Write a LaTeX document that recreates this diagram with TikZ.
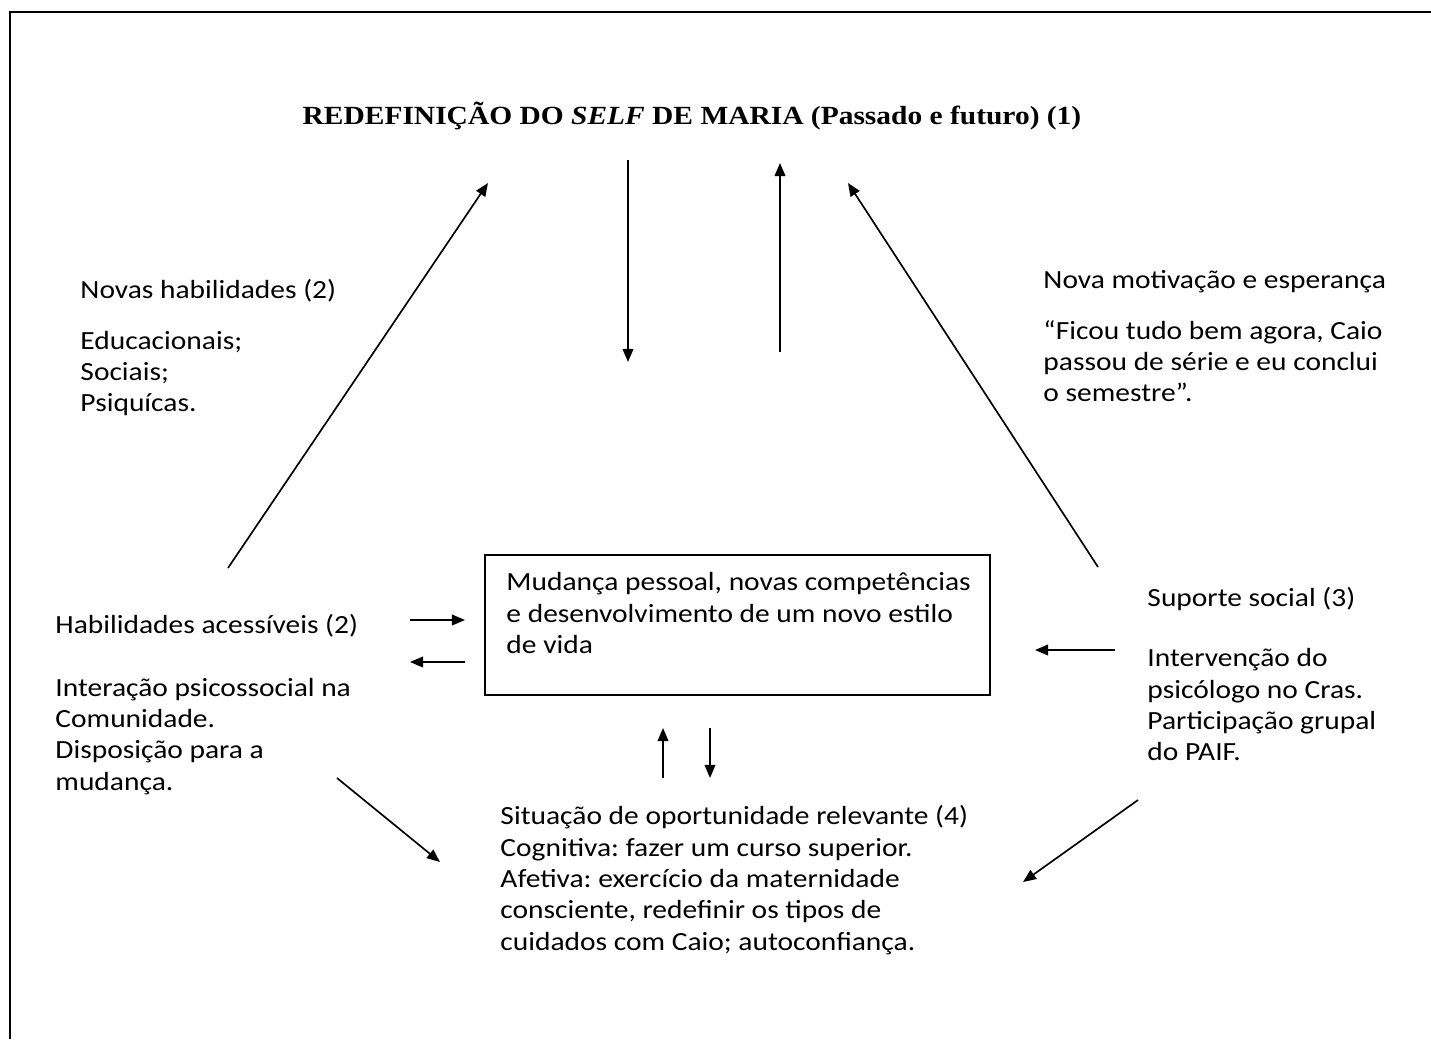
\documentclass[tikz,border=0pt]{standalone}
\usepackage{fontspec}
\setmainfont{Carlito}[FakeStretch=1.125]
\newfontfamily\fonttitulo{Liberation Serif}[FakeStretch=1.125]
\usetikzlibrary{arrows.meta}
\frenchspacing

\tikzset{
  seta/.style={line width=0.7pt, -{Triangle[length=5.5pt,width=4.5pt]}},
  bloco/.style={anchor=north west, align=left, inner sep=0pt,
    font=\fontsize{11pt}{13.2pt}\selectfont},
  caixa/.style={draw, line width=0.7pt, inner sep=0pt,
    minimum width=212.1pt, minimum height=58.8pt},
}

\begin{document}
\begin{tikzpicture}[x=0.42pt,y=-0.42pt]
    \useasboundingbox (0,0) rectangle (1431,1039);
    \draw[line width=0.85pt] (1431,12) -- (10,12) -- (10,1039);

    \node[font=\fonttitulo\bfseries\fontsize{11pt}{13pt}\selectfont] (titulo) at (692,116)
        {REDEFINIÇÃO DO \textit{SELF} DE MARIA (Passado e futuro) (1)};

    \node[bloco] (novas) at (80,279) {Novas habilidades (2)\\[8pt]
        Educacionais;\\ Sociais;\\ Psiquícas.};
    \node[bloco] (motivacao) at (1043,270) {Nova motivação e esperança\\[8pt]
        “Ficou tudo bem agora, Caio\\ passou de série e eu conclui\\ o semestre”.};
    \node[bloco] (acessiveis) at (55,614) {Habilidades acessíveis (2)\\[13pt]
        Interação psicossocial na\\ Comunidade.\\ Disposição para a\\ mudança.};
    \node[bloco] (suporte) at (1147,587) {Suporte social (3)\\[12pt]
        Intervenção do\\ psicólogo no Cras.\\ Participação grupal\\ do PAIF.};

    \node[caixa] (caixa) at (737.5,625) {};
    \node[bloco] (mudanca) at (506,572) {Mudança pessoal, novas competências\\
        e desenvolvimento de um novo estilo\\ de vida};
    \node[bloco] (oportunidade) at (500,805) {Situação de oportunidade relevante (4)\\
        Cognitiva: fazer um curso superior.\\ Afetiva: exercício da maternidade\\
        consciente, redefinir os tipos de\\ cuidados com Caio; autoconfiança.};

    \coordinate (a1) at (228,568);  \coordinate (b1) at (488,183);
    \coordinate (a2) at (628,160);  \coordinate (b2) at (628,362);
    \coordinate (a3) at (780,352);  \coordinate (b3) at (780,163);
    \coordinate (a4) at (1098,567); \coordinate (b4) at (848,183);
    \coordinate (a5) at (410,620);  \coordinate (b5) at (465,620);
    \coordinate (a6) at (465,662);  \coordinate (b6) at (410,662);
    \coordinate (a7) at (1115,650); \coordinate (b7) at (1035,650);
    \coordinate (a8) at (663,778);  \coordinate (b8) at (663,728);
    \coordinate (a9) at (710,728);  \coordinate (b9) at (710,778);
    \coordinate (a10) at (337,778); \coordinate (b10) at (440,862);
    \coordinate (a11) at (1138,800); \coordinate (b11) at (1023,882);

    \foreach \i in {1,...,11}
	\draw[seta] (a\i) -- (b\i);
\end{tikzpicture}
\end{document}
